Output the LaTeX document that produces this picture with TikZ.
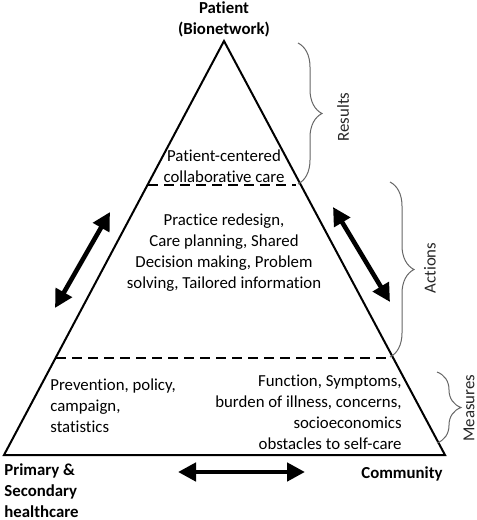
\documentclass[tikz,border=0pt]{standalone}
\usepackage{fontspec}
\setmainfont{Carlito}[Ligatures=NoCommon]
\usetikzlibrary{arrows.meta,decorations.pathreplacing}
\tikzstyle{txt} = [font={\fontsize{8.4}{10.5}\selectfont}, align=center, inner sep=0pt]
\tikzstyle{hdr} = [txt, font={\fontsize{8.4}{10.5}\selectfont\bfseries}]
\tikzstyle{edge} = [line width=1pt, line join=miter]
\tikzstyle{divider} = [line width=1pt, dash pattern=on 5pt off 3pt]
\tikzstyle{brc} = [decorate, decoration={brace,amplitude=12pt}, draw=black!60, line width=0.5pt]
\tikzstyle{side} = [txt, rotate=90, text=black!85]
\tikzstyle{bigarrow} = [{Triangle[length=9pt,width=9pt]}-{Triangle[length=9pt,width=9pt]}, line width=2.3pt]

\begin{document}
\begin{tikzpicture}[x=0.5pt,y=-0.5pt]
        \useasboundingbox (0,0) rectangle (477,520);
        % pyramid
        \coordinate (top) at (224,41);
        \coordinate (bl) at (4,455);
        \coordinate (br) at (445,455);
        \draw[edge] (top) -- (bl) -- (br) -- cycle;
        \coordinate (d1l) at (148,185);
        \coordinate (d1r) at (296,185);
        \coordinate (d2l) at (56,358);
        \coordinate (d2r) at (392,358);
        \draw[divider] (d1l) -- (d1r);
        \draw[divider] (d2l) -- (d2r);
        % texts
        \node[hdr](patient) at (224,19){Patient\\(Bionetwork)};
        \node[txt](results) at (224,166){Patient-centered\\collaborative care};
        \node[txt](actions) at (224,253){Practice redesign,\\Care planning, Shared\\Decision making, Problem\\solving, Tailored information};
        \node[txt,align=left,anchor=west](policy) at (50,406){Prevention, policy,\\campaign,\\statistics};
        \node[txt,align=right,anchor=east](measures) at (402,412){Function, Symptoms,\\burden of illness, concerns,\\socioeconomics\\obstacles to self-care};
        \node[hdr,align=left,anchor=west](care) at (4,491){Primary \&\\Secondary\\healthcare};
        \node[hdr](community) at (402,474){Community};
        % braces
        \coordinate (b1a) at (298,43);
        \coordinate (b1b) at (298,184);
        \coordinate (b2a) at (390,182);
        \coordinate (b2b) at (390,357);
        \coordinate (b3a) at (437,372);
        \coordinate (b3b) at (437,443);
        \draw[brc] (b1a) -- (b1b);
        \draw[brc] (b2a) -- (b2b);
        \draw[brc] (b3a) -- (b3b);
        \node[side](r) at (343,117){Results};
        \node[side](a) at (430,268){Actions};
        \node[side](m) at (469,408){Measures};
        % arrows
        \coordinate (la) at (55,308);
        \coordinate (lb) at (110,212);
        \coordinate (ra) at (333,207);
        \coordinate (rb) at (390,302);
        \coordinate (ha) at (178,472);
        \coordinate (hb) at (305,472);
        \draw[bigarrow] (la) -- (lb);
        \draw[bigarrow] (ra) -- (rb);
        \draw[bigarrow] (ha) -- (hb);
      \end{tikzpicture}
\end{document}
